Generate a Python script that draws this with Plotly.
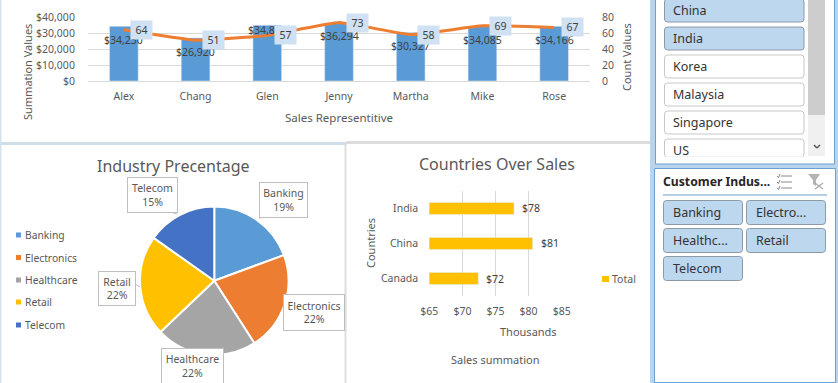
import plotly.graph_objects as go

W, H = 838, 383
FONT = "Noto Sans"
GREY = "#595959"

reps = ["Alex", "Chang", "Glen", "Jenny", "Martha", "Mike", "Rose"]
sales = [34230, 26920, 34818, 36294, 30327, 34085, 34166]
counts = [64, 51, 57, 73, 58, 69, 67]

industries = ["Banking", "Electronics", "Healthcare", "Retail", "Telecom"]
industry_share = [19.4, 21.5, 22.0, 21.9, 15.2]
industry_colors = ["#5b9bd5", "#ed7d31", "#a5a5a5", "#ffc000", "#4472c4"]

countries = ["Canada", "China", "India"]
country_sales = [72.4, 80.6, 77.8]

slicer_countries = ["China", "India", "Korea", "Malaysia", "Singapore", "US"]
slicer_country_on = [True, True, False, False, False, False]
slicer_industries = ["Banking", "Electro...", "Healthc...", "Retail", "Telecom"]


def px(x):
    return x / W


def py(y):
    return 1 - y / H


shapes, annos = [], []


def rect(x0, y0, x1, y1, fill, line=None, lw=1):
    shapes.append(dict(type="rect", xref="paper", yref="paper", layer="below",
                       x0=px(x0), x1=px(x1), y0=py(y0), y1=py(y1), fillcolor=fill,
                       line=dict(color=line or fill, width=lw if line else 0)))


def seg(x0, y0, x1, y1, color, lw=1, layer="below"):
    shapes.append(dict(type="line", xref="paper", yref="paper", layer=layer,
                       x0=px(x0), x1=px(x1), y0=py(y0), y1=py(y1),
                       line=dict(color=color, width=lw)))


def rrect(x0, y0, x1, y1, fill, line, r=3):
    X0, X1, Y0, Y1 = px(x0), px(x1), py(y0), py(y1)
    rx, ry = r / W, r / H
    path = (f"M{X0+rx},{Y0} L{X1-rx},{Y0} Q{X1},{Y0} {X1},{Y0-ry} L{X1},{Y1+ry} "
            f"Q{X1},{Y1} {X1-rx},{Y1} L{X0+rx},{Y1} Q{X0},{Y1} {X0},{Y1+ry} "
            f"L{X0},{Y0-ry} Q{X0},{Y0} {X0+rx},{Y0} Z")
    shapes.append(dict(type="path", xref="paper", yref="paper", layer="below", path=path,
                       fillcolor=fill, line=dict(color=line, width=1)))


def text(x, y, s, size=11, color=GREY, anchor="center", angle=0, **kw):
    if anchor == "left":
        x -= 2
    annos.append(dict(xref="paper", yref="paper", x=px(x), y=py(y), text=s, showarrow=False,
                      xanchor=anchor, yanchor="middle", textangle=angle,
                      font=dict(family=FONT, size=size, color=color), **kw))


# ---- dashboard frame
rect(0, 142, 346, 145, "#cfdee9")
rect(346, 141, 650, 144, "#dcdcdc")
rect(0, 0, 1.5, 383, "#d5e2ec")
rect(344.5, 144, 346.5, 383, "#dddddd")
rect(650, 0, 838, 383, "#b9d5ee")

# ---- slicer 1 (country)
rect(655.5, -2, 834.5, 164, "#ffffff", "#6d9fcf")
rect(808, 0, 825, 156, "#f0f0f0")
rect(808, 0, 825, 115, "#cdcdcd")
seg(814, 145, 817, 148, "#555555", 1.5)
seg(817, 148, 820, 145, "#555555", 1.5)
for i, (c, on) in enumerate(zip(slicer_countries, slicer_country_on)):
    top = -1 + 28 * i
    bottom = min(top + 23, 157)
    rrect(664.5, top, 804, bottom, "#bdd7ee" if on else "#ffffff", "#8c9aa8" if on else "#c8c8c8")
    text(673, top + 11.5 if i < 5 else 150.5, c, 12.5, "#333333", "left")
rect(660, 156.5, 830, 162, "#ffffff")

# ---- slicer 2 (industry)
rect(654.5, 168.5, 835.5, 382.5, "#ffffff", "#6d9fcf")
text(663, 182, "<b>Customer Indus...</b>", 12.2, "#262626", "left")
seg(663, 195, 827, 195, "#6d9fcf", 1)
for dy in (176, 182, 188):
    seg(781, dy, 792, dy, "#8a8a8a", 1)
    seg(777, dy, 778.5, dy + 1.5, "#8a8a8a", 1)
    seg(778.5, dy + 1.5, 780, dy - 2, "#8a8a8a", 1)
shapes.append(dict(type="path", xref="paper", yref="paper", layer="below",
                   path=f"M{px(808)},{py(174)} L{px(820)},{py(174)} L{px(816)},{py(180)} "
                        f"L{px(816)},{py(186)} L{px(813)},{py(184)} L{px(813)},{py(180)} Z",
                   fillcolor="#b5b5b5", line=dict(color="#b5b5b5", width=0)))
seg(815, 183, 823, 189, "#a8a8a8", 1.2)
seg(823, 183, 815, 189, "#a8a8a8", 1.2)
for i, c in enumerate(slicer_industries):
    col, row = i % 2, i // 2
    x0 = 663.5 + 83 * col
    y0 = 200.5 + 28 * row
    rrect(x0, y0, x0 + 79, y0 + 24, "#bdd7ee", "#8c9aa8")
    text(x0 + 9, y0 + 12, c, 12.5, "#333333", "left")

# ---- top chart annotations
bar_label_offset = [14, 14, 5, 13, 14, 14, 14]
for r, v, off in zip(reps, sales, bar_label_offset):
    annos.append(dict(xref="x", yref="y", x=r, y=v, text=f"${v:,}", showarrow=False,
                      yshift=-off, yanchor="middle",
                      font=dict(family=FONT, size=10.5, color="#404040")))
for r, v in zip(reps, counts):
    annos.append(dict(xref="x", yref="y2", x=r, y=v, text=str(v), showarrow=False,
                      xshift=18, yanchor="middle", bgcolor="#cfe1f3", width=19, height=16,
                      font=dict(family=FONT, size=10.5, color="#404040")))
text(27, 72, "Summation Values", 11, GREY, angle=-90)
text(627, 57, "Count Values", 11, GREY, angle=-90)
text(339, 117, "Sales Representitive", 11.5, GREY)

# ---- pie chart furniture
text(173, 166, "Industry Precentage", 16, GREY)
legend_y = [235, 257.5, 280, 302, 325]
for name, color, y in zip(industries, industry_colors, legend_y):
    rect(16, y - 2.5, 21, y + 2.5, color)
    text(25, y, name, 10.3, GREY, "left")
boxes = [(283, 200, 47, 34), (314, 312, 60, 35), (192.5, 366, 61, 34), (117, 288, 36, 33), (152.5, 195, 49, 34)]
for name, share, (cx, cy, bw, bh) in zip(industries, industry_share, boxes):
    annos.append(dict(xref="paper", yref="paper", x=px(cx), y=py(cy), width=bw - 2, height=bh - 2,
                      text=f"{name}<br>{round(share)}%", showarrow=False, xanchor="center",
                      yanchor="middle", bgcolor="#ffffff", bordercolor="#bfbfbf", borderwidth=1,
                      font=dict(family=FONT, size=10.5, color=GREY)))
seg(259, 218, 268, 217, "#bfbfbf", 1, "above")
seg(170, 212, 177, 214, "#bfbfbf", 1, "above")
seg(135, 284, 140, 287, "#bfbfbf", 1, "above")

# ---- country chart furniture
text(497, 164, "Countries Over Sales", 16, GREY)
for c, v in zip(countries, country_sales):
    annos.append(dict(xref="x2", yref="y3", x=v, y=c, text=f"${round(v)}", showarrow=False,
                      xanchor="left", xshift=6, yanchor="middle",
                      font=dict(family=FONT, size=10.5, color="#404040")))
text(371, 243, "Countries", 11, GREY, angle=-90)
text(528, 331, "Thousands", 11, GREY)
text(495, 359, "Sales summation", 11, GREY)
rect(602, 276, 609, 282, "#ffc000")
text(612, 279, "Total", 10.5, GREY, "left")

fig = go.Figure()
fig.add_bar(x=reps, y=sales, marker_color="#5b9bd5", width=0.4, name="Summation", showlegend=False)
fig.add_scatter(x=reps, y=counts, yaxis="y2", mode="lines", name="Count", showlegend=False,
                line=dict(color="#ed7d31", width=3, shape="spline", smoothing=0.3))
fig.add_pie(labels=industries, values=industry_share, sort=False, direction="clockwise", rotation=0,
            marker=dict(colors=industry_colors, line=dict(color="#ffffff", width=2)),
            textinfo="none", showlegend=False, domain=dict(x=[px(140), px(288.5)], y=[py(355), py(206.5)]))
fig.add_bar(x=country_sales, y=countries, orientation="h", xaxis="x2", yaxis="y3", width=0.34,
            marker_color="#ffc000", name="Total", showlegend=False)

tick = dict(family=FONT, size=10.5, color=GREY)
GRID = "#d9d9d9"
fig.update_layout(
    width=W, height=H, margin=dict(l=0, r=0, t=0, b=0, autoexpand=False), autosize=False,
    paper_bgcolor="#ffffff", plot_bgcolor="rgba(0,0,0,0)", bargap=0.5, shapes=shapes, annotations=annos,
    xaxis=dict(domain=[px(88), px(590)], anchor="y", tickfont=tick, showgrid=False, showline=True,
               linecolor=GRID, ticks="outside", ticklen=5, tickcolor="rgba(0,0,0,0)"),
    yaxis=dict(domain=[py(81), py(17)], range=[0, 40000], dtick=10000, tickprefix="$", tickformat=",d",
               tickfont=tick, gridcolor=GRID, zeroline=False, anchor="x",
               ticks="outside", ticklen=10, tickcolor="rgba(0,0,0,0)"),
    yaxis2=dict(domain=[py(81), py(17)], range=[0, 80], dtick=20, overlaying="y", side="right", anchor="x",
                tickfont=tick, showgrid=False, zeroline=False,
                ticks="outside", ticklen=9, tickcolor="rgba(0,0,0,0)"),
    xaxis2=dict(domain=[px(429.3), px(561.7)], range=[65, 85], dtick=5, tickprefix="$", anchor="y3",
                tickfont=tick, gridcolor=GRID, zeroline=False,
                ticks="outside", ticklen=5, tickcolor="rgba(0,0,0,0)"),
    yaxis3=dict(domain=[py(296), py(191)], anchor="x2", tickfont=tick, showgrid=False,
                ticks="outside", ticklen=8, tickcolor="rgba(0,0,0,0)"),
)
fig.write_html("out.html", config={"displayModeBar": False},
               post_script="document.body.style.margin='0';document.documentElement.style.overflow='hidden';")
